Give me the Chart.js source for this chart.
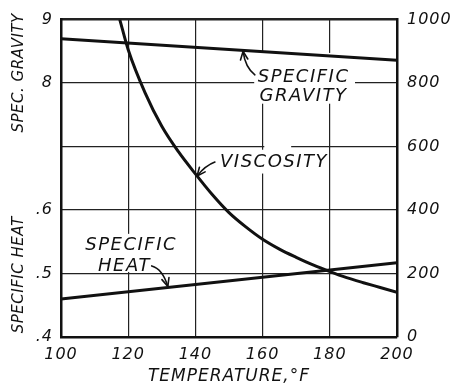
<!DOCTYPE html>
<html>
<head>
<meta charset="utf-8">
<script src="https://cdn.jsdelivr.net/npm/chart.js@4/dist/chart.umd.min.js"></script>
<style>
  html, body { margin: 0; padding: 0; background: #fff; }
  #c { display: block; }
</style>
</head>
<body>
<canvas id="c" width="453" height="388"></canvas>
<script>
// Oil properties against temperature (°F)
const viscosityTemps = [117.5, 120, 125, 130, 135, 140, 145, 150, 155, 160, 165, 170, 175, 180, 185, 190, 195, 200];
const viscosity      = [1000, 905, 770, 664, 583, 514, 449, 392, 347, 308, 277, 251, 227, 206, 187, 171, 156, 141];

const gravityTemps    = [100, 200];
const specificGravity = [0.870, 0.836];

const heatTemps    = [100, 200];
const specificHeat = [0.460, 0.517];

// Axis ticks
const xTicks          = [100, 120, 140, 160, 180, 200];
const rightTicks      = [0, 200, 400, 600, 800, 1000];
const leftTickValues  = [0.4, 0.5, 0.6, 0.8, 0.9];
const leftTickLabels  = ['.4', '.5', '.6', '8', '9'];

const INK = '#111';
const FONT = '"DejaVu Sans", sans-serif';

function pairs(xs, ys) { return xs.map((x, i) => ({ x: x, y: ys[i] })); }
function lerp(xs, ys, x) {
  for (let i = 0; i < xs.length - 1; i++) {
    if (x >= xs[i] && x <= xs[i + 1]) {
      const t = (x - xs[i]) / (xs[i + 1] - xs[i]);
      return ys[i] + t * (ys[i + 1] - ys[i]);
    }
  }
  return ys[ys.length - 1];
}

function arrow(ctx, from, ctrl, tip) {
  ctx.beginPath();
  ctx.moveTo(from.x, from.y);
  ctx.quadraticCurveTo(ctrl.x, ctrl.y, tip.x, tip.y);
  ctx.stroke();
  const ang = Math.atan2(tip.y - ctrl.y, tip.x - ctrl.x);
  const len = 9, spread = 0.42;
  ctx.beginPath();
  ctx.moveTo(tip.x - len * Math.cos(ang - spread), tip.y - len * Math.sin(ang - spread));
  ctx.lineTo(tip.x, tip.y);
  ctx.lineTo(tip.x - len * Math.cos(ang + spread), tip.y - len * Math.sin(ang + spread));
  ctx.stroke();
}

const labelsPlugin = {
  id: 'curveLabels',
  beforeDraw(chart) {
    chart.ctx.letterSpacing = '1px';
  },
  beforeDatasetsDraw(chart) {
    const ctx = chart.ctx;
    const sx = chart.scales.x, sy = chart.scales.y, sl = chart.scales.yL;
    const P = (t, v) => ({ x: sx.getPixelForValue(t), y: sy.getPixelForValue(v) });

    // clear the grid behind the curve names
    ctx.save();
    ctx.fillStyle = '#fff';
    const blank = (a, b) => ctx.fillRect(a.x, b.y, b.x - a.x, a.y - b.y);
    blank(P(157.5, 735), P(187.5, 895));  // specific gravity
    blank(P(146.5, 515), P(160.5, 590));  // viscosity
    blank(P(160.5, 515), P(168.5, 620));
    blank(P(168.5, 515), P(179.3, 590));
    blank(P(106.5, 205), P(135, 325));    // specific heat
    ctx.restore();

    ctx.save();
    ctx.fillStyle = INK;
    ctx.strokeStyle = INK;
    ctx.font = 'italic 18px ' + FONT;
    ctx.letterSpacing = '1.5px';
    ctx.textAlign = 'center';
    ctx.textBaseline = 'middle';

    let p = P(172.2, 819); ctx.fillText('SPECIFIC', p.x, p.y);
    p = P(172.2, 757);     ctx.fillText('GRAVITY', p.x, p.y);
    p = P(163.4, 551);     ctx.fillText('VISCOSITY', p.x, p.y);
    p = P(120.9, 288);     ctx.fillText('SPECIFIC', p.x, p.y);
    p = P(118.9, 224);     ctx.fillText('HEAT', p.x, p.y);

    // leader arrows from the names to their curves
    ctx.lineWidth = 1.6;
    ctx.lineCap = 'round';
    ctx.lineJoin = 'round';
    const tg = 154.2;
    arrow(ctx, P(157.7, 826), P(154.8, 850),
      { x: sx.getPixelForValue(tg), y: sl.getPixelForValue(lerp(gravityTemps, specificGravity, tg)) + 1 });
    const tv = 140.5;
    arrow(ctx, P(145.8, 551), P(143, 540),
      { x: sx.getPixelForValue(tv), y: sy.getPixelForValue(lerp(viscosityTemps, viscosity, tv)) });
    const th = 131.8;
    arrow(ctx, P(127.0, 224), P(130.2, 215),
      { x: sx.getPixelForValue(th), y: sl.getPixelForValue(lerp(heatTemps, specificHeat, th)) - 1 });

    // left axis names
    ctx.font = 'italic 15px ' + FONT;
    ctx.letterSpacing = '0.5px';
    const ax = chart.chartArea.left - 42;
    const drawUp = (text, y) => {
      ctx.save();
      ctx.translate(ax, y);
      ctx.rotate(-Math.PI / 2);
      ctx.fillText(text, 0, 0);
      ctx.restore();
    };
    drawUp('SPEC. GRAVITY', sl.getPixelForValue(0.816));
    drawUp('SPECIFIC HEAT', sl.getPixelForValue(0.498));
    ctx.restore();
  }
};

const tickFont = { family: FONT, size: 16, style: 'italic' };

new Chart(document.getElementById('c'), {
  type: 'line',
  data: {
    datasets: [
      {
        label: 'Viscosity',
        data: pairs(viscosityTemps, viscosity),
        yAxisID: 'y',
        borderColor: INK,
        borderWidth: 3,
        pointRadius: 0,
        cubicInterpolationMode: 'monotone',
        fill: false
      },
      {
        label: 'Specific gravity',
        data: pairs(gravityTemps, specificGravity),
        yAxisID: 'yL',
        borderColor: INK,
        borderWidth: 3,
        pointRadius: 0,
        fill: false
      },
      {
        label: 'Specific heat',
        data: pairs(heatTemps, specificHeat),
        yAxisID: 'yL',
        borderColor: INK,
        borderWidth: 3,
        pointRadius: 0,
        fill: false
      }
    ]
  },
  options: {
    responsive: false,
    devicePixelRatio: 1,
    animation: false,
    events: [],
    layout: { padding: { top: 16, left: 0, right: 0, bottom: 0 } },
    plugins: { legend: { display: false }, tooltip: { enabled: false } },
    scales: {
      x: {
        type: 'linear',
        min: 100,
        max: 200,
        afterBuildTicks: s => { s.ticks = xTicks.map(v => ({ value: v })); },
        afterFit: s => { s.height = 51; },
        ticks: { font: tickFont, color: INK, padding: 8, maxRotation: 0, callback: v => String(v) },
        grid: { color: '#222', lineWidth: 1.2, drawTicks: false },
        border: { display: true, color: INK, width: 2.5 },
        title: {
          display: true,
          text: 'TEMPERATURE,°F',
          color: INK,
          font: { family: FONT, size: 17, style: 'italic' },
          padding: { top: 2, bottom: 1 }
        }
      },
      y: {
        type: 'linear',
        position: 'right',
        min: 0,
        max: 1000,
        afterBuildTicks: s => { s.ticks = rightTicks.map(v => ({ value: v })); },
        afterFit: s => { s.width = 56; },
        ticks: { font: tickFont, color: INK, padding: 10, callback: v => String(v) },
        grid: {
          color: '#222',
          lineWidth: c => (c.tick && c.tick.value === 1000 ? 2.5 : 1.2),
          drawTicks: false
        },
        border: { display: true, color: INK, width: 2.5 }
      },
      yL: {
        type: 'linear',
        position: 'left',
        min: 0.4,
        max: 0.9,
        afterBuildTicks: s => { s.ticks = leftTickValues.map(v => ({ value: v })); },
        afterFit: s => { s.width = 61; },
        ticks: { font: tickFont, color: INK, padding: 8, callback: (v, i) => leftTickLabels[i] },
        grid: { display: false, drawTicks: false },
        border: { display: true, color: INK, width: 2.5 }
      }
    }
  },
  plugins: [labelsPlugin]
});
</script>
</body>
</html>
